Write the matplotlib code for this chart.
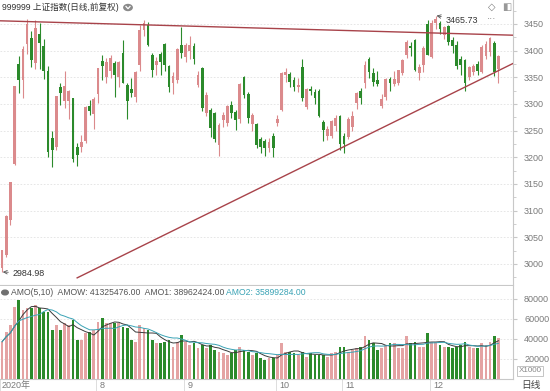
import numpy as np
import pandas as pd
import matplotlib
matplotlib.use('Agg')
import matplotlib.pyplot as plt
from matplotlib.patches import Circle
from matplotlib.lines import Line2D

plt.rcParams['font.family'] = ['Liberation Sans', 'Noto Sans CJK SC', 'DejaVu Sans']

# --- Daily candles, SSE composite, Jul 1 .. Dec 23 2020 ---
opens = [2991.6, 3017.4, 3081.6, 3187, 3375, 3345, 3412, 3424, 3376, 3432, 3408, 3362, 3236, 3219, 3332, 3305, 3306, 3311, 3219, 3219, 3230, 3297, 3281,
         3319, 3380, 3350, 3362, 3377, 3350, 3396, 3335, 3328, 3313, 3373, 3439, 3449, 3392, 3374, 3394, 3412, 3371, 3340, 3345, 3410,
         3389, 3400, 3408, 3335, 3368, 3284, 3289, 3283, 3224, 3270, 3265, 3299, 3285, 3272, 3350, 3318, 3262, 3262, 3235, 3230, 3218, 3240,
         3264, 3289, 3355, 3357, 3345, 3331, 3370, 3295, 3328, 3323, 3325, 3266, 3240, 3240, 3259, 3278,
         3240, 3238, 3256, 3302, 3325, 3340, 3385, 3358, 3345, 3296, 3313, 3346, 3337, 3340, 3358, 3392, 3409, 3420, 3358, 3373, 3450,
         3388, 3452, 3452, 3430, 3446, 3420, 3410, 3385, 3383, 3350, 3360, 3375, 3360, 3390, 3398, 3414, 3366]
highs = [3027, 3091, 3153, 3333, 3390, 3408, 3458.8, 3437, 3458, 3451, 3422, 3372, 3250, 3315, 3340, 3362, 3326, 3312, 3226, 3242, 3296, 3307, 3314,
         3368, 3391, 3386, 3392, 3381, 3381, 3420, 3340, 3348, 3361, 3448, 3458, 3454, 3395, 3389, 3398, 3414, 3373, 3360, 3405, 3444,
         3414, 3428, 3415, 3362, 3370, 3323, 3292, 3285, 3264, 3285, 3298, 3305, 3289, 3340, 3352, 3323, 3284, 3264, 3238, 3235, 3237, 3245,
         3280, 3360, 3367, 3360, 3350, 3349, 3384, 3330, 3333, 3328, 3328, 3270, 3259, 3270, 3280, 3280,
         3245, 3276, 3286, 3323, 3330, 3381, 3389, 3367, 3361, 3318, 3349, 3351, 3361, 3363, 3384, 3420, 3417, 3422, 3375, 3409, 3458,
         3457, 3465.73, 3455, 3447, 3448, 3425, 3418, 3390, 3385, 3372, 3375, 3380, 3410, 3418, 3426, 3419, 3392]
lows = [2984.98, 3013, 3074, 3185, 3320, 3311, 3393, 3369, 3366, 3366, 3346, 3200, 3182, 3214, 3298, 3292, 3272, 3191, 3184, 3210, 3226, 3279, 3253,
        3301, 3345, 3340, 3348, 3313, 3332, 3340, 3272, 3313, 3303, 3362, 3427, 3408, 3351, 3355, 3355, 3362, 3322, 3318, 3340, 3387,
        3378, 3385, 3375, 3332, 3287, 3278, 3238, 3229, 3203, 3256, 3259, 3274, 3251, 3265, 3311, 3264, 3250, 3218, 3208, 3202, 3210, 3200,
        3259, 3287, 3341, 3332, 3325, 3322, 3306, 3290, 3317, 3300, 3275, 3230, 3232, 3236, 3250, 3214,
        3209, 3234, 3250, 3291, 3300, 3330, 3349, 3333, 3334, 3292, 3308, 3325, 3333, 3335, 3355, 3386, 3390, 3362, 3345, 3360, 3391,
        3386, 3440, 3431, 3422, 3410, 3395, 3366, 3355, 3325, 3345, 3355, 3355, 3358, 3385, 3390, 3352, 3340]
closes = [3026, 3090.6, 3152.8, 3332.9, 3345.3, 3403.4, 3450.6, 3383.3, 3443.3, 3414.6, 3361.3, 3210.1, 3214.1, 3314.2, 3320.9, 3333.2, 3325.1, 3196.8, 3205.2, 3228, 3294.6, 3286.8, 3310,
          3368, 3372, 3378, 3386, 3354, 3379, 3340, 3305, 3320, 3360, 3439, 3451, 3411, 3364, 3381, 3378, 3374, 3332, 3352, 3404, 3396,
          3411, 3410, 3385, 3355, 3293, 3316, 3255, 3235, 3260, 3279, 3296, 3284, 3270, 3338, 3317, 3274, 3280, 3223, 3219, 3218, 3228, 3218,
          3272, 3358, 3360, 3341, 3332, 3336, 3312, 3328, 3325, 3312, 3278, 3251, 3254, 3269, 3273, 3225,
          3225, 3271, 3277, 3320, 3312, 3374, 3360, 3342, 3338, 3310, 3347, 3340, 3347, 3363, 3383, 3416, 3405, 3364, 3369, 3405, 3392,
          3451, 3460, 3440, 3445, 3416, 3408, 3371, 3373, 3340, 3369, 3372, 3362, 3407, 3412, 3424, 3360, 3390]

# turnover, x1000
volumes = [37300, 47300, 54000, 72300, 79000, 69000, 70700, 70700, 74000, 70700, 67300, 67300, 49000, 54000, 49000, 55700, 54000, 59000, 39000, 39000,
           45700, 47300, 49000, 57300, 60700, 55700, 55700, 55700, 55700, 52300, 50700, 39000, 37300, 54000, 50700, 49000, 39000, 35700, 35700, 37300,
           39000, 32300, 37300, 44000, 37300, 34000, 35700, 30700, 34000, 30700, 34000, 29000, 27300, 25700, 24000, 25700, 29000, 32300, 29000, 27300,
           24000, 25700, 20700, 19000, 20700,
           20700, 24000, 35700, 27300, 27300, 25700, 24000, 27300, 22300, 25700, 24000, 24000, 24000, 22300, 25700, 27300, 32300, 32300, 27300, 29000,
           30700, 32300, 43000, 39000, 35700, 29000, 30700, 34000, 35700, 35700, 30700, 30700, 43000, 35700, 37300, 32300, 32300, 45700, 37300, 37300,
           34000, 32300, 32300, 30700, 32300, 34000, 37300, 32300, 30700, 30700, 35700, 34000, 37300, 43000, 41300]

month_ticks = [0, 23, 44, 66, 82, 103]
month_labels = ['2020年', '8', '9', '10', '11', '12']

# hand-drawn triangle lines (bar index, price)
upper_line_x = [-0.5, 122.5]
upper_line_y = [3456, 3429]
lower_line_x = [18, 122.5]
lower_line_y = [2974, 3376]

PINK = '#db8a8c'
GREEN = '#2b8a2b'
VPINK = '#e4a3a3'
LINE_RED = '#a8434a'
GRAY_TXT = '#7a7a7a'
AXIS_GRAY = '#c8c8c8'

W, H = 550, 391
fig = plt.figure(figsize=(5.5, 3.91), dpi=100)

# -------------------------------------------------------------
# Candle panel
# -------------------------------------------------------------
ax = fig.add_axes([0, (H - 285) / H, 513 / W, 285 / H])
ax_v = fig.add_axes([0, (H - 379) / H, 513 / W, 93 / H])

idx = np.arange(len(closes))
o = np.array(opens); c = np.array(closes); hi = np.array(highs); lo = np.array(lows)
up = c >= o
cols = np.where(up, PINK, GREEN)

ax.vlines(idx, lo, hi, colors=cols, linewidth=0.8, zorder=3)
body = np.maximum(np.abs(c - o), 1.5)
ax.bar(idx, body, bottom=np.minimum(o, c), width=0.66, color=cols, linewidth=0, zorder=4)

ax.plot(upper_line_x, upper_line_y, color=LINE_RED, linewidth=1.0, zorder=5)
ax.plot(lower_line_x, lower_line_y, color=LINE_RED, linewidth=1.0, zorder=5)

ax.set_xlim(-0.5, 122.5)
ax.set_ylim(2960.6, 3495)
ax.yaxis.tick_right()
ax.set_yticks(np.arange(3000, 3451, 50))
ax.set_yticks(np.arange(2975, 3476, 25), minor=True)
ax.tick_params(axis='y', which='major', labelsize=6.5, labelcolor=GRAY_TXT, color=AXIS_GRAY, length=3, pad=5)
ax.tick_params(axis='y', which='minor', color=AXIS_GRAY, length=2)
ax.set_xticks([])
ax.grid(axis='y', which='major', linestyle=(0, (2, 2)), color='#e2e2e2', linewidth=0.6)
for s in ['top', 'left']:
    ax.spines[s].set_visible(False)
ax.spines['right'].set_color(AXIS_GRAY)
ax.spines['bottom'].set_color(AXIS_GRAY)
ax.spines['right'].set_linewidth(0.8)
ax.spines['bottom'].set_linewidth(0.8)

# extreme labels
ax.annotate('3465.73', xy=(idx[np.argmax(hi)], hi.max()), xytext=(106.3, 3457),
            fontsize=6.4, color='#333333', va='center', ha='left',
            arrowprops=dict(arrowstyle='->', color='#555555', lw=0.6, shrinkA=1, shrinkB=0.5))
ax.annotate('2984.98', xy=(idx[np.argmin(lo)], lo.min()), xytext=(2.5, 2983),
            fontsize=6.4, color='#333333', va='center', ha='left',
            arrowprops=dict(arrowstyle='->', color='#555555', lw=0.6, shrinkA=1, shrinkB=0.5))

# -------------------------------------------------------------
# Turnover panel
# -------------------------------------------------------------
vol = pd.Series(volumes, dtype=float)
vcols = np.where(up, VPINK, GREEN)
ax_v.bar(idx, vol, width=0.66, color=vcols, linewidth=0, zorder=3)
ax_v.plot(idx, vol.rolling(5, min_periods=1).mean(), color='#3a3a3a', linewidth=0.7, zorder=4)
ax_v.plot(idx, vol.rolling(10, min_periods=1).mean(), color='#3aa3b5', linewidth=0.7, zorder=4)

ax_v.set_xlim(-0.5, 122.5)
ax_v.set_ylim(0, 93000)
ax_v.yaxis.tick_right()
ax_v.set_yticks([20000, 40000, 60000, 80000])
ax_v.tick_params(axis='y', labelsize=6.5, labelcolor=GRAY_TXT, color=AXIS_GRAY, length=3, pad=5)
ax_v.grid(axis='y', linestyle=(0, (2, 2)), color='#e2e2e2', linewidth=0.6)
ax_v.set_xticks(np.array(month_ticks) - 0.4)
ax_v.set_xticklabels([])
ax_v.tick_params(axis='x', color='#d8d8d8', length=9, width=0.6)
for k, lab in zip(month_ticks, month_labels):
    ax_v.text(k - 0.1 if k == 0 else k + 0.4, -0.075, lab, transform=ax_v.get_xaxis_transform(),
              fontsize=6.5, color=GRAY_TXT, ha='left', va='center')
for s in ['top', 'left']:
    ax_v.spines[s].set_visible(False)
ax_v.spines['right'].set_color(AXIS_GRAY)
ax_v.spines['bottom'].set_color(AXIS_GRAY)
ax_v.spines['right'].set_linewidth(0.8)
ax_v.spines['bottom'].set_linewidth(0.8)

# -------------------------------------------------------------
# Header texts and little icons (pixel coords)
# -------------------------------------------------------------
def fx(px):
    return px / W

def fy(py):
    return 1 - py / H

fig.text(fx(2), fy(7.5), '999999 上证指数(日线,前复权)', fontsize=6.2, color='#333333', va='center', ha='left')
fig.patches.append(Circle((fx(128), fy(7.5)), 4.2 / W, transform=fig.transFigure, color='#8a8a8a'))
fig.lines.append(Line2D([fx(126), fx(128), fx(130)], [fy(6.5), fy(8.7), fy(6.5)], transform=fig.transFigure,
                        color='white', linewidth=0.9))

fig.text(fx(492), fy(7), '\u25C7', fontsize=7, color='#777777', ha='center', va='center', family='DejaVu Sans')
fig.text(fx(507), fy(7), '\u25E7', fontsize=7, color='#999999', ha='center', va='center', family='DejaVu Sans')
fig.text(fx(492), fy(19), '\u00B7\u00B7\u00B7', fontsize=7, color='#777777', ha='center', va='center')

fig.patches.append(Circle((fx(5), fy(292.5)), 3.3 / W, transform=fig.transFigure, color='#707070'))
fig.text(fx(11), fy(292.5), 'AMO(5,10)  AMOW: 41325476.00  AMO1: 38962424.00', fontsize=6.2, color='#555555',
         va='center', ha='left')
fig.text(fx(226), fy(292.5), 'AMO2: 35899284.00', fontsize=6.2, color='#3aa3b5', va='center', ha='left')

fig.text(fx(530), fy(371), 'X1000', fontsize=5.8, color='#888888', ha='center', va='center',
         bbox=dict(boxstyle='square,pad=0.15', facecolor='white', edgecolor='#bbbbbb', linewidth=0.6))
fig.text(fx(531), fy(385), '日线', fontsize=7, color='#444444', ha='center', va='center')

fig.savefig('out.png', dpi=100)
